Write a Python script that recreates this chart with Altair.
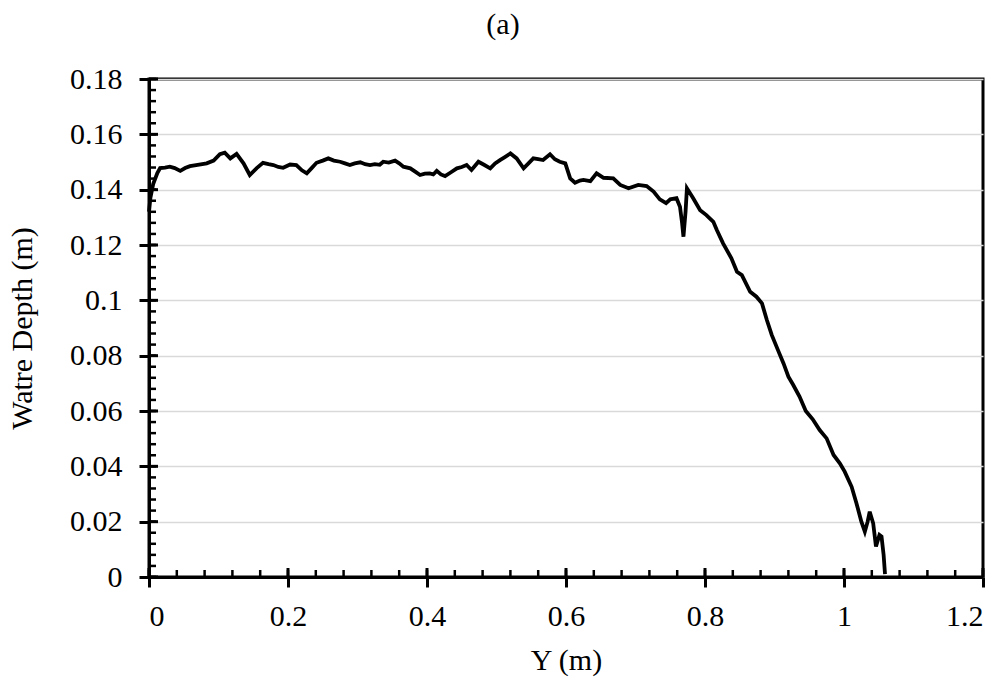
import altair as alt
import pandas as pd

# Data
y_pos = [0.000, 0.002, 0.006, 0.012, 0.016, 0.023, 0.030, 0.037, 0.045, 0.052,
         0.059, 0.070, 0.083, 0.093, 0.102, 0.109, 0.117, 0.126, 0.136, 0.145,
         0.155, 0.164, 0.172, 0.179, 0.186, 0.193, 0.203, 0.212, 0.220, 0.227,
         0.234, 0.241, 0.250, 0.258, 0.266, 0.275, 0.282, 0.289, 0.296, 0.304,
         0.311, 0.318, 0.325, 0.332, 0.337, 0.345, 0.354, 0.360, 0.366, 0.376,
         0.383, 0.390, 0.397, 0.404, 0.409, 0.414, 0.420, 0.426, 0.434, 0.443,
         0.450, 0.457, 0.464, 0.474, 0.482, 0.491, 0.498, 0.505, 0.512, 0.520,
         0.529, 0.539, 0.546, 0.553, 0.560, 0.567, 0.577, 0.584, 0.591, 0.599,
         0.606, 0.613, 0.620, 0.625, 0.635, 0.644, 0.654, 0.668, 0.678, 0.690,
         0.704, 0.716, 0.726, 0.735, 0.744, 0.750, 0.759, 0.764, 0.767, 0.769,
         0.772, 0.774, 0.783, 0.793, 0.802, 0.812, 0.817, 0.826, 0.838, 0.846,
         0.853, 0.865, 0.874, 0.882, 0.889, 0.896, 0.905, 0.913, 0.920, 0.927,
         0.936, 0.945, 0.955, 0.965, 0.975, 0.985, 0.994, 1.001, 1.011, 1.018,
         1.025, 1.030, 1.034, 1.037, 1.042, 1.046, 1.051, 1.054, 1.057, 1.059]
depth = [0.1320, 0.1370, 0.1420, 0.1460, 0.1478, 0.1480, 0.1483, 0.1478, 0.1468, 0.1478,
         0.1485, 0.1490, 0.1495, 0.1505, 0.1528, 0.1534, 0.1513, 0.1529, 0.1495, 0.1453,
         0.1478, 0.1497, 0.1492, 0.1489, 0.1482, 0.1479, 0.1491, 0.1489, 0.1470, 0.1459,
         0.1478, 0.1497, 0.1505, 0.1513, 0.1505, 0.1501, 0.1495, 0.1489, 0.1495, 0.1499,
         0.1492, 0.1489, 0.1492, 0.1490, 0.1501, 0.1498, 0.1505, 0.1495, 0.1483, 0.1477,
         0.1465, 0.1453, 0.1458, 0.1459, 0.1455, 0.1468, 0.1455, 0.1449, 0.1462, 0.1477,
         0.1482, 0.1489, 0.1471, 0.1501, 0.1490, 0.1477, 0.1495, 0.1507, 0.1518, 0.1531,
         0.1513, 0.1477, 0.1495, 0.1513, 0.1510, 0.1507, 0.1528, 0.1510, 0.1501, 0.1495,
         0.1441, 0.1425, 0.1433, 0.1435, 0.1431, 0.1459, 0.1443, 0.1441, 0.1417, 0.1405,
         0.1417, 0.1413, 0.1393, 0.1365, 0.1351, 0.1365, 0.1369, 0.1338, 0.1280, 0.1230,
         0.1320, 0.1405, 0.1369, 0.1326, 0.1308, 0.1284, 0.1254, 0.1206, 0.1152, 0.1103,
         0.1091, 0.1031, 0.1013, 0.0989, 0.0929, 0.0875, 0.0820, 0.0772, 0.0724, 0.0694,
         0.0652, 0.0600, 0.0570, 0.0531, 0.0501, 0.0441, 0.0411, 0.0381, 0.0326, 0.0266,
         0.0200, 0.0164, 0.0200, 0.0236, 0.0194, 0.0110, 0.0152, 0.0146, 0.0080, 0.0010]

x_ticks = [0, 0.2, 0.4, 0.6, 0.8, 1.0, 1.2]
y_ticks = [0, 0.02, 0.04, 0.06, 0.08, 0.1, 0.12, 0.14, 0.16, 0.18]
x_minor = [round(i * 0.04, 3) for i in range(31)]
y_minor = [round(i * 0.004, 4) for i in range(46)]

FONT = "Liberation Serif"
W, H = 834, 498

df = pd.DataFrame({"x": y_pos, "y": depth})
xs = alt.Scale(domain=[0, 1.2], nice=False, zero=False)
ys = alt.Scale(domain=[0, 0.18], nice=False, zero=False)
x_axis = alt.Axis(values=x_ticks, format="~g", grid=False)
y_axis = alt.Axis(values=y_ticks, format="~g", grid=True)
X_TITLE = "Y (m)"
Y_TITLE = "Watre Depth (m)"


def xenc():
    return alt.X("x:Q", scale=xs, title=X_TITLE, axis=x_axis)


def yenc():
    return alt.Y("y:Q", scale=ys, title=Y_TITLE, axis=y_axis)


line = alt.Chart(df).mark_line(color="black", strokeWidth=3.8).encode(x=xenc(), y=yenc())

ymin_df = pd.DataFrame({"y": y_minor})
ymaj_df = pd.DataFrame({"y": y_ticks})
xmin_df = pd.DataFrame({"x": x_minor})
xmaj_df = pd.DataFrame({"x": x_ticks})

y_minor_rules = alt.Chart(ymin_df).mark_rule(color="black", strokeWidth=2.5).encode(
    y=yenc(), x=alt.value(0), x2=alt.value(7))
y_major_rules = alt.Chart(ymaj_df).mark_rule(color="black", strokeWidth=3).encode(
    y=yenc(), x=alt.value(0), x2=alt.value(9))
x_minor_rules = alt.Chart(xmin_df).mark_rule(color="black", strokeWidth=2.5).encode(
    x=xenc(), y=alt.value(H), y2=alt.value(H - 7))
x_major_rules = alt.Chart(xmaj_df).mark_rule(color="black", strokeWidth=3).encode(
    x=xenc(), y=alt.value(H), y2=alt.value(H - 9))

chart = alt.layer(line, y_minor_rules, y_major_rules, x_minor_rules, x_major_rules).properties(
    width=W, height=H,
    autosize=alt.AutoSizeParams(type="none"),
    padding={"left": 149, "top": 79, "right": 25, "bottom": 102},
    title=alt.TitleParams("(a)", font=FONT, fontSize=30, fontWeight="normal",
                          color="black", anchor="middle", dx=-63, offset=24),
).configure_view(stroke="black", strokeWidth=3).configure_axis(
    labelFont=FONT, labelFontSize=30, labelColor="black",
    titleFont=FONT, titleFontSize=30, titleColor="black", titleFontWeight="normal",
    domainColor="black", domainWidth=3, tickColor="black", tickWidth=3, tickSize=10,
    gridColor="#d9d9d9", gridWidth=1.5,
).configure_axisX(labelPadding=14, titlePadding=14).configure_axisY(
    labelPadding=17, titlePadding=32
)

chart.save("out.html", embed_options={"renderer": "svg", "actions": False})
